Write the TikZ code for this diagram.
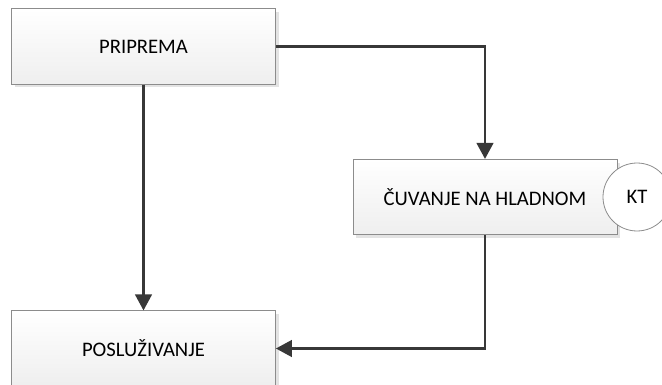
\documentclass[tikz,border=0pt]{standalone}
\usepackage{fontspec}
\setmainfont{Carlito}
\usetikzlibrary{positioning}
\usetikzlibrary{arrows.meta}
\usetikzlibrary{shadows}
\tikzset{
    stepbox/.style = {rectangle, draw=gray!90, line width=0.6pt, minimum width=198pt, minimum height=56.5pt,
        top color=white, bottom color=gray!13, font=\fontsize{15.5}{18}\selectfont,
        drop shadow={shadow xshift=2.4pt, shadow yshift=-2.4pt, fill=gray!22, opacity=1}},
    ctrl/.style = {circle, draw=gray!90, line width=0.6pt, fill=white, minimum size=51pt, inner sep=0pt,
        font=\fontsize{15.5}{18}\selectfont},
    edgen/.style = {-{Triangle[length=12pt,width=12.5pt]}, line width=1.7pt, draw=black!78},
}

\begin{document}
\begin{tikzpicture}[x=0.75pt, y=-0.75pt]
\useasboundingbox (0,0) rectangle (662,385);
\node[stepbox] at (143.5, 46.5) (prip) {PRIPREMA};
\node[stepbox] at (485.0, 197.0) (cuv) {ČUVANJE NA HLADNOM};
\node[ctrl] at (637.0, 197.0) (kt) {KT};
\node[stepbox] at (143.5, 348.5) (posl) {POSLUŽIVANJE};
%
\draw[edgen] (prip.east) -| (cuv.north);
\draw[edgen] (prip.south) -- (posl.north);
\draw[edgen] (cuv.south) |- (posl.east);

\end{tikzpicture}
\end{document}
